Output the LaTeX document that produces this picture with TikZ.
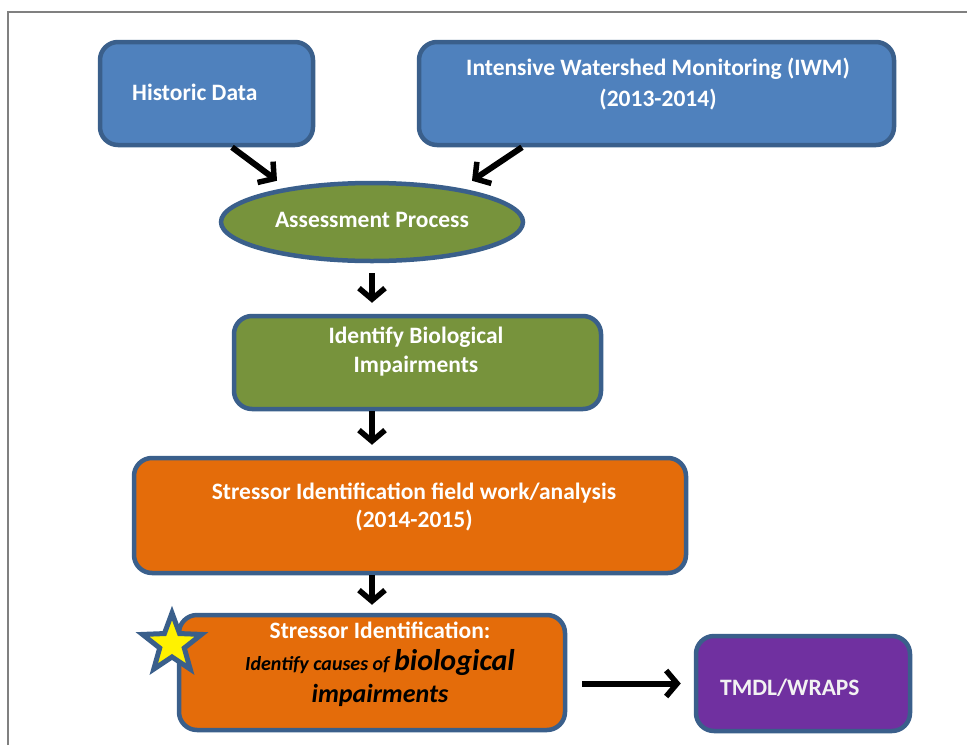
\documentclass[tikz,border=0pt]{standalone}
\usepackage{fontspec}
\setmainfont{Carlito}
\usetikzlibrary{shapes.geometric,arrows.meta,calc}
\definecolor{bfill}{HTML}{4F81BD}
\definecolor{bedge}{HTML}{3A5F8B}
\definecolor{gfill}{HTML}{77933C}
\definecolor{ofill}{HTML}{E46C0A}
\definecolor{pfill}{HTML}{7030A0}
\definecolor{frame}{HTML}{808080}
\tikzset{
  box/.style={draw=bedge, line width=4.5pt, rounded corners=18pt, inner sep=0pt},
  txt/.style={text=white, font=\bfseries\fontsize{23.5}{30}\selectfont, align=center, inner sep=0pt},
  flow/.style={line width=6pt, draw=black, -{Straight Barb[length=11pt,width=26pt,line width=5.5pt]}},
}
\begin{document}
\begin{tikzpicture}[x=1pt,y=-1pt]
\useasboundingbox (0,0) rectangle (967,745);
\draw[frame, line width=2pt] (8,745) -- (8,12) -- (967,12);

\node[box, fill=bfill, minimum width=213pt, minimum height=103pt] (hist) at (206.5,93.5) {};
\node[txt, anchor=west] (histt) at (132,92) {Historic Data};

\node[box, fill=bfill, minimum width=475pt, minimum height=103pt] (iwm) at (656.5,93.5) {};
\node[txt, font=\bfseries\fontsize{23.5}{31}\selectfont] (iwmt) at (658,84) {Intensive Watershed Monitoring (IWM)\\(2013-2014)};

\node[ellipse, draw=bedge, line width=4.5pt, fill=gfill, minimum width=302pt, minimum height=78pt, inner sep=0pt] (ap) at (372,222) {};
\node[txt] (apt) at (372,220) {Assessment Process};

\node[box, fill=gfill, minimum width=367pt, minimum height=93pt] (bio) at (417.5,362.5) {};
\node[txt, font=\bfseries\fontsize{23.5}{29}\selectfont] (biot) at (416,352) {Identify Biological\\Impairments};

\node[box, fill=ofill, minimum width=552pt, minimum height=115pt] (sif) at (410,515.5) {};
\node[txt, font=\bfseries\fontsize{23.5}{28}\selectfont] (sift) at (414,507) {Stressor Identification field work/analysis\\(2014-2015)};

\node[box, fill=ofill, minimum width=386pt, minimum height=115pt] (si) at (372,672.5) {};
\node[txt, font=\bfseries\fontsize{23.5}{32}\selectfont] (sit) at (380,664) {Stressor Identification:\\
  {\color{black}\itshape\fontsize{20}{32}\selectfont Identify causes of \fontsize{30}{32}\selectfont biological}\\
  {\color{black}\itshape\fontsize{26}{30}\selectfont impairments}};

\node[star, star points=5, star point ratio=2.4, draw=bedge, line width=5pt, fill=yellow, minimum size=62pt, inner sep=0pt] (st) at (172,644) {};

\node[box, fill=pfill, minimum width=214pt, minimum height=95pt] (tmdl) at (803,683.5) {};
\node[txt, anchor=west, text=white!95!black] (tmdlt) at (720,688) {TMDL/WRAPS};

\draw[flow] ($(hist.south)+(25.5,0)$) -- ($(ap.north)+(-95,0)$);
\draw[flow] ($(iwm.south)+(-134.5,0)$) -- ($(ap.north)+(100,0)$);
\draw[flow] ($(ap.south)+(0,10)$) -- ($(ap.south |- bio.north)+(0,-11)$);
\draw[flow] (ap.south |- bio.south) -- ($(ap.south |- sif.north)+(0,-11)$);
\draw[flow] (ap.south |- sif.south) -- ($(ap.south |- si.north)+(0,-8)$);
\draw[flow] ($(si.east |- tmdl.center)+(15,0)$) -- ($(tmdl.west)+(-13,0)$);
\end{tikzpicture}
\end{document}
